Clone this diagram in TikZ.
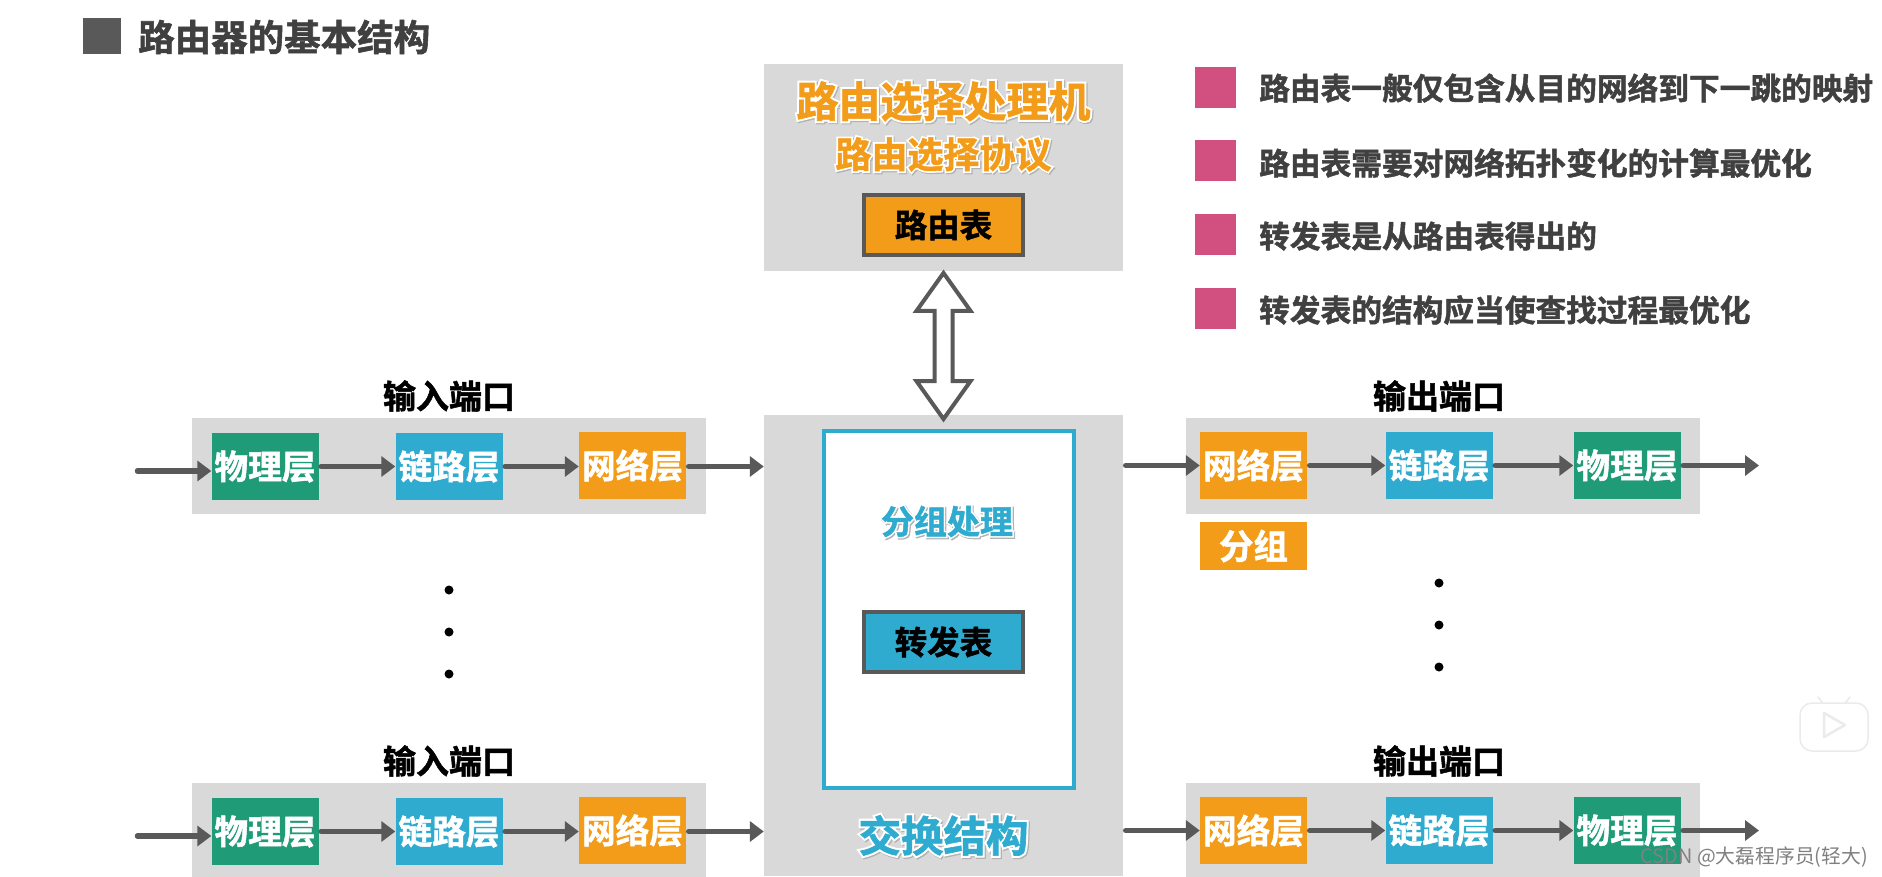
\documentclass[tikz,border=0pt]{standalone}
\usepackage{fontspec}
\setmainfont{Noto Sans CJK SC}[BoldFont={Noto Sans CJK SC Bold},BoldFeatures={FakeBold=1.5}]
\newfontfamily\halofont{Noto Sans CJK SC Bold}[FakeBold=11]
\usetikzlibrary{arrows.meta,shapes.arrows,calc}
\definecolor{pgray}{HTML}{D9D9D9}
\definecolor{dgray}{HTML}{595959}
\definecolor{pgreen}{HTML}{1F9B78}
\definecolor{pblue}{HTML}{30ABD0}
\definecolor{porange}{HTML}{F39C19}
\definecolor{ppink}{HTML}{D1507F}
\definecolor{btext}{HTML}{404040}
\newcommand{\fs}[1]{\fontsize{#1}{#1}\selectfont}
\newcommand{\halo}[2]{\leavevmode\rlap{\kern1.2pt\raisebox{-1.2pt}{\halofont\color{black!30}#2}}\rlap{\halofont\color{white}#2}{\bfseries\color{#1}#2}}
\tikzset{
  x=1pt,y=-1pt,
  panel/.style={fill=pgray,draw=none,inner sep=0pt,minimum width=#1},
  stage/.style={fill=#1,draw=none,inner sep=0pt,minimum width=107,minimum height=67,text=white,font=\fs{33.7}\bfseries},
  table/.style={fill=#1,draw=dgray,line width=4,inner sep=0pt,minimum width=159,minimum height=60,text=black,font=\fs{32.5}\bfseries},
  flow/.style={draw=dgray,line width=5.5,line cap=round,-{Triangle[length=14,width=20]},shorten <=2.5},
  portlabel/.style={text=black,font=\fs{33}\bfseries,inner sep=0pt},
  bullet/.style={fill=ppink,draw=none,minimum width=41,minimum height=41,inner sep=0pt},
  note/.style={text=btext,font=\fs{30.7}\bfseries,inner sep=0pt,anchor=west},
  dotmark/.style={circle,fill=black,draw=none,minimum size=9,inner sep=0pt},
}
\begin{document}
\begin{tikzpicture}
\useasboundingbox (0,0) rectangle (1882,876);
\fill[white] (0,0) rectangle (1882,876);
% title
\node[fill=dgray,minimum width=38,minimum height=36,inner sep=0pt] (tsq) at (102,36) {};
\node[text=btext,font=\fs{36.5}\bfseries,inner sep=0pt,anchor=west] (ttl) at (138,37) {路由器的基本结构};
% central panels
\node[panel=359,minimum height=207] (rp) at (943.5,167.5) {};
\node[panel=359,minimum height=461] (sw) at (943.5,645.5) {};
\node[inner sep=0pt] (rpt) at (943.5,102) {\fs{42}\halo{porange}{路由选择处理机}};
\node[inner sep=0pt] (rpp) at (943.5,155) {\fs{36}\halo{porange}{路由选择协议}};
\node[table=porange] (rt) at (943.5,225) {路由表};
\node[fill=white,draw=pblue,line width=4,inner sep=0pt,minimum width=250,minimum height=357] (pp) at (948.5,609) {};
\node[inner sep=0pt] (ppt) at (947,522) {\fs{33}\halo{pblue}{分组处理}};
\node[table=pblue] (ft) at (943.5,642) {转发表};
\node[inner sep=0pt] (swt) at (943.5,836) {\fs{42.5}\halo{pblue}{交换结构}};
% double arrow
\node[double arrow,draw=dgray,fill=white,line width=4,rotate=90,inner sep=0pt,minimum width=54,minimum height=146,double arrow head extend=4,double arrow tip angle=71,yshift=0] (da) at ($(rp.south)!.5!(sw.north)+(0,3)$) {};
% ports
\foreach \r/\dy in {1/0,2/365}{
  \node[panel=514,minimum height=96] (ip\r) at (449,466+\dy) {};
  \node[panel=514,minimum height=96] (op\r) at (1442.5,466+\dy) {};
  \node[portlabel] (il\r) at (449,396+\dy) {输入端口};
  \node[portlabel] (ol\r) at (1439,396+\dy) {输出端口};
  \node[stage=pgreen] (ia\r) at (265,466.5+\dy) {物理层};
  \node[stage=pblue] (ib\r) at (449,466.5+\dy) {链路层};
  \node[stage=porange] (ic\r) at (632.5,465.5+\dy) {网络层};
  \node[stage=porange] (oa\r) at (1253.5,465.5+\dy) {网络层};
  \node[stage=pblue] (ob\r) at (1439,465.5+\dy) {链路层};
  \node[stage=pgreen] (oc\r) at (1627,465.5+\dy) {物理层};
  \coordinate (is\r) at (135,471+\dy);
  \coordinate (oe\r) at (1759,466+\dy);
  \draw[flow] (is\r) -- (is\r -| ia\r.west);
  \draw[flow] (ia\r.east |- ib\r.west) -- (ib\r.west);
  \draw[flow] (ib\r.east) -- (ib\r.east -| ic\r.west);
  \draw[flow] (ic\r.east |- ib\r.east) -- (ib\r.east -| sw.west);
  \draw[flow] (sw.east |- oa\r.west) -- (oa\r.west);
  \draw[flow] (oa\r.east) -- (ob\r.west);
  \draw[flow] (ob\r.east) -- (oc\r.west);
  \draw[flow] (oc\r.east) -- (oe\r |- oc\r.east);
}
% packet
\node[fill=porange,inner sep=0pt,minimum width=107,minimum height=48,text=white,font=\fs{34.5}\bfseries] (pk) at (1253.5,546) {分组};
% dots
\foreach \i/\yy in {1/590,2/632,3/674}{\node[dotmark] (dl\i) at (449,\yy) {};}
\foreach \i/\yy in {1/583,2/625,3/667}{\node[dotmark] (dr\i) at (1439,\yy) {};}
% notes
\node[bullet] (b1) at (1215.5,87) {};
\node[bullet] (b2) at (1215.5,160) {};
\node[bullet] (b3) at (1215.5,234) {};
\node[bullet] (b4) at (1215.5,308) {};
\node[note] (n1) at (1259,88) {路由表一般仅包含从目的网络到下一跳的映射};
\node[note] (n2) at (1259,163) {路由表需要对网络拓扑变化的计算最优化};
\node[note] (n3) at (1259,236) {转发表是从路由表得出的};
\node[note] (n4) at (1259,310) {转发表的结构应当使查找过程最优化};
% play badge
\draw[draw=black!8,line width=1.5,line cap=round] (1818,697) -- (1826,707) (1850,697) -- (1842,707);
\node[fill=white,draw=black!8,line width=1.5,rounded corners=12,minimum width=68,minimum height=48,inner sep=0pt] (pl) at (1834,727) {};
\draw[draw=black!8,line width=2.5,line join=round] (1824,713) -- (1824,737) -- (1845,725) -- cycle;
% watermark
\node[text=black!50,font=\fs{19.8},inner sep=0pt,anchor=east] (wm) at (1868,857) {CSDN @大磊程序员(轻大)};
\end{tikzpicture}
\end{document}
